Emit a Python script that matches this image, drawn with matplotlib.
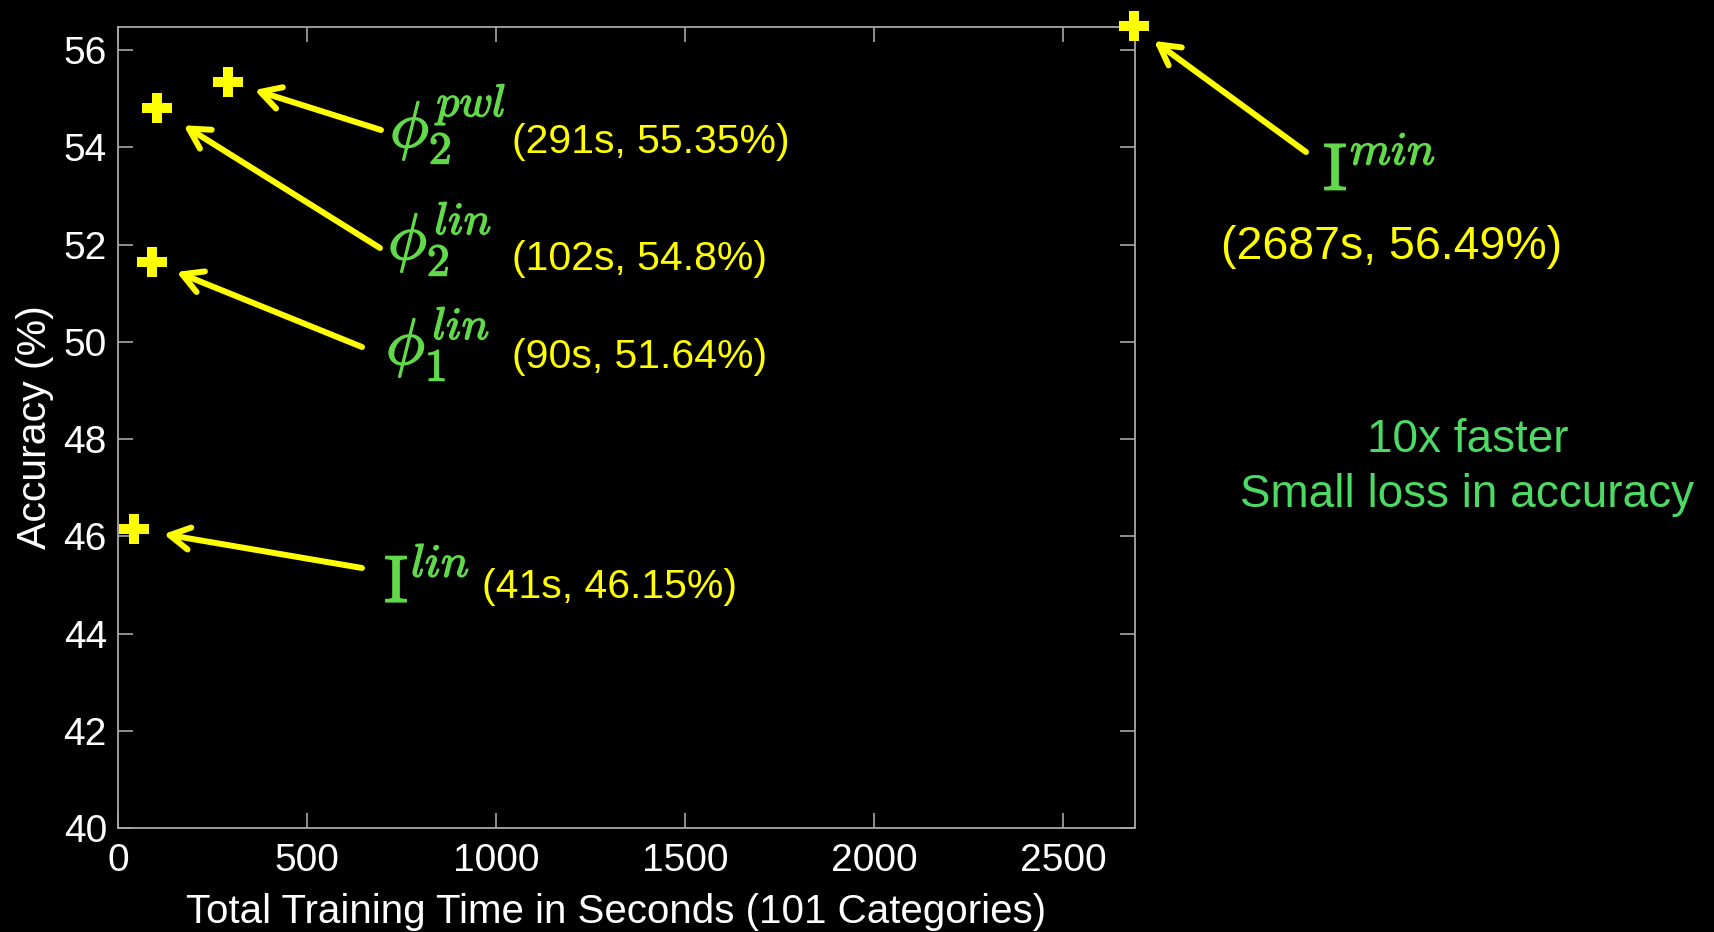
import matplotlib
matplotlib.use("Agg")
import matplotlib.pyplot as plt
import matplotlib.patheffects as pe

# Training cost vs. accuracy for each kernel approximation
methods = [r"$\mathrm{I}^{lin}$", r"$\phi_1^{lin}$", r"$\phi_2^{lin}$",
           r"$\phi_2^{pwl}$", r"$\mathrm{I}^{min}$"]
train_time = [41, 90, 102, 291, 2687]          # seconds
accuracy = [46.15, 51.64, 54.8, 55.35, 56.49]   # percent

x_ticks = [0, 500, 1000, 1500, 2000, 2500]
y_ticks = [40, 42, 44, 46, 48, 50, 52, 54, 56]

W, H = 1714, 932
YELLOW = "#FFFF00"
MATH_GREEN = "#62D94A"
TEXT_GREEN = "#4CD964"
SPINE = "#A8A8A8"

plt.rcParams["mathtext.fontset"] = "cm"
plt.rcParams["font.family"] = ["Liberation Sans", "DejaVu Sans"]

fig = plt.figure(figsize=(W / 100, H / 100), dpi=100, facecolor="black")


def fpos(px, py):
    """Pixel position (from top-left) to figure fraction."""
    return px / W, 1 - py / H


ax = fig.add_axes([118 / W, 1 - 828 / H, (1135 - 118) / W, (828 - 26.7) / H])
ax.set_facecolor("black")
ax.set_xlim(0, 2690)
ax.set_ylim(40, 56.48)
ax.set_xticks(x_ticks)
ax.set_yticks(y_ticks)
for s in ax.spines.values():
    s.set_color(SPINE)
    s.set_linewidth(1.3)
ax.tick_params(direction="in", length=11, width=1.2, color=SPINE,
               top=True, right=True, labelcolor="white", labelsize=28)
ax.tick_params(axis="x", pad=11)
ax.tick_params(axis="y", pad=8)
ax.set_xlabel("Total Training Time in Seconds (101 Categories)",
              color="white", fontsize=29, va="baseline")
ax.xaxis.set_label_coords(0.49, -0.1186)
ax.set_ylabel("Accuracy (%)", color="white", fontsize=29.5, labelpad=7)

ax.plot(train_time, accuracy, linestyle="none", marker="P", markersize=21,
        color=YELLOW, markeredgewidth=0, clip_on=False, zorder=5)

# label layout: arrow tail, math label (left, baseline), value text (left, baseline)
arrow_tail = [(362, 568), (362, 347), (380, 248), (381, 130), (1306, 152)]
arrow_gap = [22, 19, 23, 20, 18]
math_pos = [(384, 602), (386, 364), (388, 259), (390, 147), (1323, 190)]
value_pos = [(482, 598), (512, 368), (512, 270), (512, 153), (1221, 259)]
math_size = [48, 47, 47, 47, 48]
value_size = [29.5, 29.5, 29.5, 29.5, 33.5]

bold_math = [pe.withStroke(linewidth=1.0, foreground=MATH_GREEN)]

for i, (t, a) in enumerate(zip(train_time, accuracy)):
    ax.annotate("", xy=(t, a), xycoords="data",
                xytext=fpos(*arrow_tail[i]), textcoords="figure fraction",
                annotation_clip=False,
                arrowprops=dict(arrowstyle="->,head_length=0.72,head_width=0.4",
                                color=YELLOW, lw=4.3, shrinkA=0,
                                shrinkB=arrow_gap[i], mutation_scale=20))
    fig.text(*fpos(*math_pos[i]), methods[i], color=MATH_GREEN,
             fontsize=math_size[i], ha="left", va="baseline",
             path_effects=bold_math)
    fig.text(*fpos(*value_pos[i]), f"({t}s, {a}%)", color=YELLOW,
             fontsize=value_size[i], ha="left", va="baseline")

fig.text(*fpos(1468, 452), "10x faster", color=TEXT_GREEN, fontsize=33,
         ha="center", va="baseline")
fig.text(*fpos(1467, 507), "Small loss in accuracy", color=TEXT_GREEN,
         fontsize=33, ha="center", va="baseline")

fig.savefig("out.png", dpi=100, facecolor="black")
